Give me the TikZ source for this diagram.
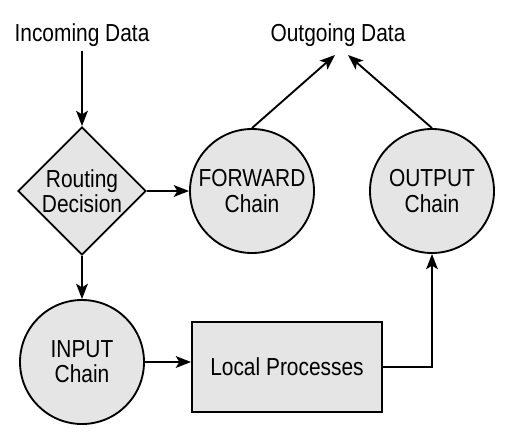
\documentclass[tikz,border=0pt]{standalone}
\usepackage{fontspec}
\setmainfont{Liberation Sans}[FakeStretch=0.85]
\usetikzlibrary{arrows.meta,shapes.geometric}

\begin{document}
\begin{tikzpicture}[
  x=0.03cm, y=-0.03cm,
  every node/.style={font=\fontsize{21}{21.5}\selectfont},
  chain/.style={circle, draw, fill=black!10, line width=1.6pt,
    minimum size=3.72cm, inner sep=0pt, align=center},
  decision/.style={diamond, draw, fill=black!10, line width=1.6pt,
    minimum width=3.84cm, minimum height=3.84cm, inner sep=0pt, align=center},
  process/.style={rectangle, draw, fill=black!10, line width=1.6pt,
    minimum width=5.7cm, minimum height=2.7cm},
  flow/.style={line width=1.6pt, -{Stealth[length=13pt, width=10pt, inset=3pt]}}
]
  \useasboundingbox (0,0) rectangle (505,444);

  % Texts
  \node (incoming) at (82,35) {Incoming Data};
  \node (outgoing) at (338,35) {Outgoing Data};
  \coordinate (out-l) at (335,55);
  \coordinate (out-r) at (348,55);

  % Nodes
  \node[decision] (route) at (82,191) {Routing\\Decision};
  \node[chain] (forward) at (252,191) {FORWARD\\Chain};
  \node[chain] (output) at (432,191) {OUTPUT\\Chain};
  \node[chain] (input) at (82,362) {INPUT\\Chain};
  \node[process] (local) at (287,367) {Local Processes};

  % Connectors
  \draw[flow] (incoming) -- (route.north);
  \draw[flow] (route.east) -- (forward.west);
  \draw[flow] (route.south) -- (input.north);
  \draw[flow] (forward.north) -- (out-l);
  \draw[flow] (output.north) -- (out-r);
  \draw[flow] (input.east) -- (input.east -| local.west);
  \draw[flow] (local.east) -| (output.south);
\end{tikzpicture}
\end{document}
